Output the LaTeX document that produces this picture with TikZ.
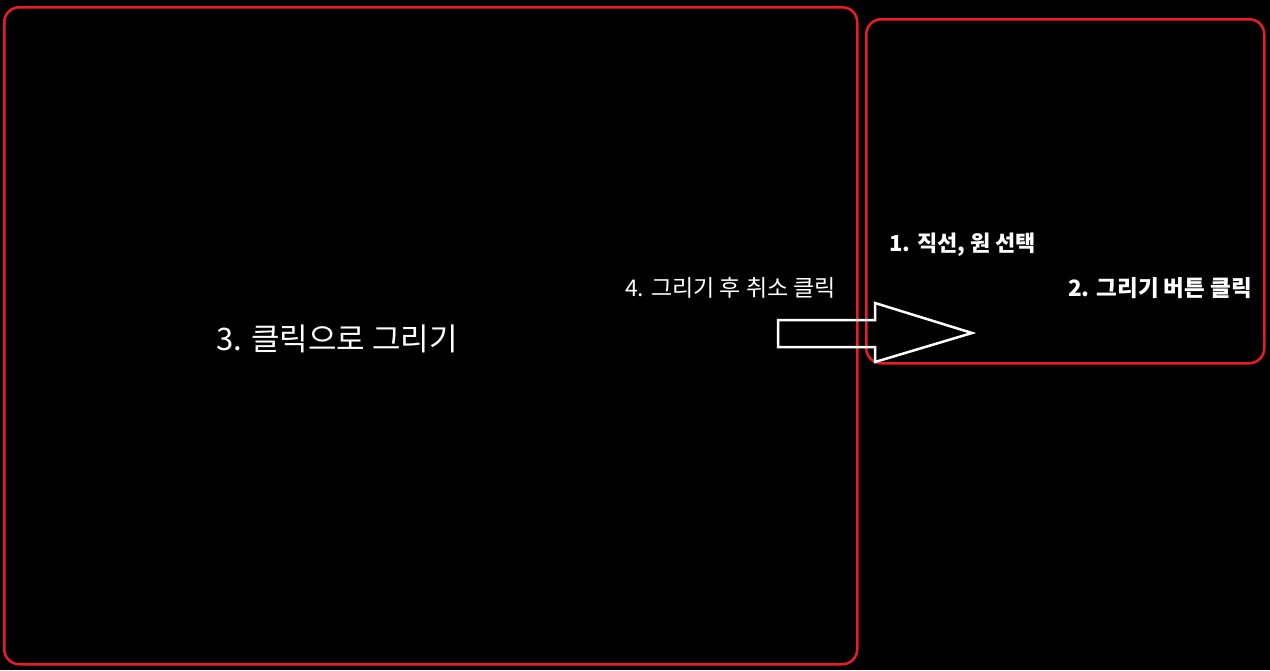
\documentclass[tikz,border=0pt]{standalone}
\usepackage{fontspec}
\setmainfont{Noto Sans CJK KR}
\newfontfamily\kr{Noto Sans CJK KR}
\definecolor{boxred}{HTML}{ED1C24}
\begin{document}
\begin{tikzpicture}[x=1pt,y=-1pt,
  panel/.style={draw=boxred,line width=2.5pt,rounded corners=15pt,inner sep=0pt,anchor=north west},
  lbl/.style={text=white,inner sep=0pt,anchor=west,font=\kr},
  bigarrow/.style={draw=white,line width=2.5pt,line join=miter}]
\fill[black] (0,0) rectangle (1270,670);
\useasboundingbox (0,0) rectangle (1270,670);
\node[panel,minimum width=853pt,minimum height=657pt] (canvas) at (3,6) {};
\node[panel,minimum width=398pt,minimum height=344pt] (tools) at (865,18) {};
\node[lbl,font=\kr\fontsize{31}{34}\selectfont] (draw) at (216,339) {3. 클릭으로 그리기};
\node[lbl,font=\kr\fontsize{23}{26}\selectfont] (cancel) at (625,288) {4. 그리기 후 취소 클릭};
\node[lbl,font=\kr\bfseries\fontsize{22}{25}\selectfont] (select) at (889,245) {1. 직선, 원 선택};
\node[lbl,font=\kr\bfseries\fontsize{22.5}{25}\selectfont] (button) at (1068,288) {2. 그리기 버튼 클릭};
\coordinate (a1) at (778,320);
\coordinate (a2) at (875,320);
\coordinate (a3) at (875,303);
\coordinate (tip) at (972,333);
\coordinate (a5) at (875,362);
\coordinate (a6) at (875,347);
\coordinate (a7) at (778,347);
\draw[bigarrow] (a1) -- (a2) -- (a3) -- (tip) -- (a5) -- (a6) -- (a7) -- cycle;
\end{tikzpicture}
\end{document}
